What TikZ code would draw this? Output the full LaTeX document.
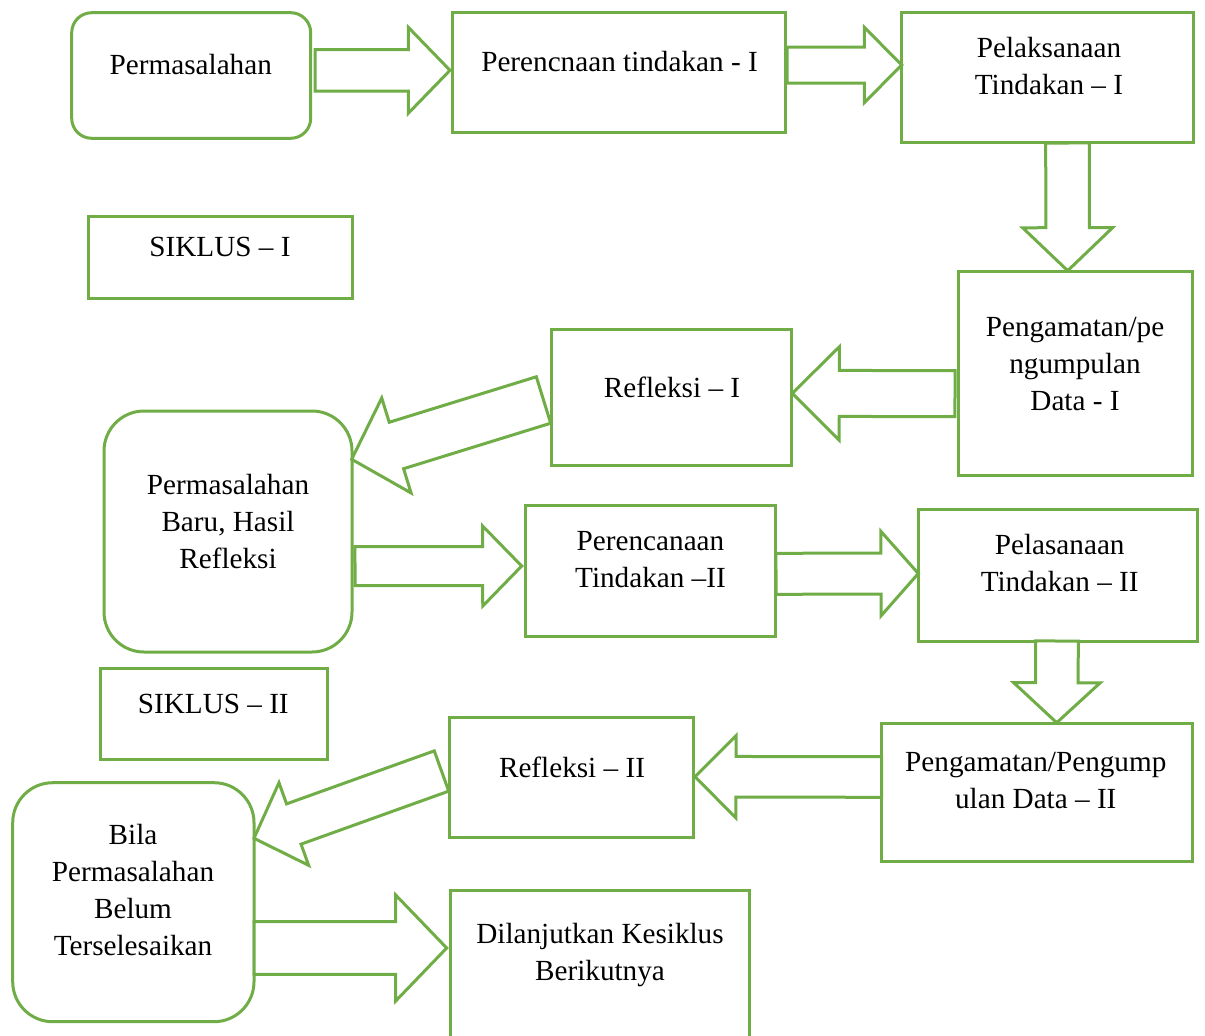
\documentclass[tikz,border=0pt]{standalone}
\usepackage{fontspec}
\setmainfont{Liberation Serif}
\usetikzlibrary{calc}
\definecolor{grn}{RGB}{112,173,71}
\tikzset{
  box/.style={draw=grn, line width=3pt, fill=white, inner sep=0pt, outer sep=0pt},
  arr/.style={draw=grn, line width=3pt, fill=white, line join=miter},
  txt/.style={anchor=base, align=center, inner sep=0pt, font=\fontsize{29.2}{36.8}\selectfont}
}
\newcommand\bx[6][]{%
  \pgfmathsetmacro\bxw{#5-#3}\pgfmathsetmacro\bxh{#6-#4}%
  \node[box,#1,minimum width=\bxw pt,minimum height=\bxh pt] (#2) at ({(#3+#5)/2},{(#4+#6)/2}) {};}
\newcommand\barrow[6]{%
  \coordinate (#1-b) at ($(#3)!#6pt!(#2)$);
  \draw[arr] ($(#2)!#4pt!90:(#3)$) -- ($(#1-b)!#4pt!90:(#3)$) -- ($(#1-b)!#5pt!90:(#3)$) -- (#3)
    -- ($(#1-b)!#5pt!-90:(#3)$) -- ($(#1-b)!#4pt!-90:(#3)$) -- ($(#2)!#4pt!-90:(#3)$) -- cycle;}
\begin{document}
\begin{tikzpicture}[x=1pt,y=-1pt]
\useasboundingbox (0,0) rectangle (1205,1036);
\clip (0,0) rectangle (1205,1036);
% boxes
\bx[rounded corners=20pt]{perm}{71.7}{12.7}{310.7}{138.3}
\bx{pt1}{452.7}{12.7}{785.7}{132.7}
\bx{pl1}{901.7}{12.7}{1193.3}{142.7}
\bx{sik1}{88}{216}{352}{298}
\bx{pg1}{958.3}{271}{1192}{475}
\bx{rf1}{551.7}{329}{791.7}{465.7}
\bx[rounded corners=40pt]{pb}{104}{411}{352}{652}
\bx{pt2}{525}{505}{775}{636.7}
\bx{pl2}{918.3}{509.3}{1197.7}{641}
\bx{sik2}{100.7}{668.3}{327.7}{759.3}
\bx{pg2}{881.7}{723.5}{1192.5}{861}
\bx{rf2}{449.3}{717}{693.3}{837}
\bx[rounded corners=40pt]{bila}{12.7}{782.7}{254}{1021.7}
\bx{dl}{450.7}{890}{749.3}{1060}
% arrow end points
\coordinate (a1s) at (315,70.3);    \coordinate (a1e) at (450,70.3);
\coordinate (a2s) at (787,65);      \coordinate (a2e) at (901.7,65);
\coordinate (a3s) at (1067.5,143);  \coordinate (a3e) at (1067.7,270.7);
\coordinate (a4s) at (955,393.7);   \coordinate (a4e) at (792.3,393.3);
\coordinate (d1s) at (543.5,400);   \coordinate (d1e) at (351.7,459.3);
\coordinate (a5s) at (355,566.2);   \coordinate (a5e) at (521.7,566);
\coordinate (a6s) at (776,573.8);   \coordinate (a6e) at (918.3,573.5);
\coordinate (a7s) at (1057,641);    \coordinate (a7e) at (1056.7,722.7);
\coordinate (a8s) at (881.7,777);   \coordinate (a8e) at (695,776.7);
\coordinate (d2s) at (441.5,771);   \coordinate (d2e) at (254,838.3);
\coordinate (a9s) at (254,948);     \coordinate (a9e) at (446.7,948);
% block arrows
\barrow{A1}{a1s}{a1e}{20.7}{43}{41.7}
\barrow{A2}{a2s}{a2e}{18}{37.7}{37.4}
\barrow{A3}{a3s}{a3e}{21.8}{45}{43}
\barrow{A4}{a4s}{a4e}{23}{46.7}{47}
\barrow{D1}{d1s}{d1e}{24.3}{49.7}{46.8}
\barrow{A5}{a5s}{a5e}{19.5}{40}{39}
\barrow{A6}{a6s}{a6e}{20.5}{42.2}{37.3}
\barrow{A7}{a7s}{a7e}{21.3}{43.3}{40}
\barrow{A8}{a8s}{a8e}{20.3}{41.2}{41}
\barrow{D2}{d2s}{d2e}{21.4}{43.9}{42.3}
\barrow{A9}{a9s}{a9e}{26.3}{53}{51}
% texts (base anchor = baseline of the last line)
\node[txt] (tperm) at (190.8,74) {Permasalahan};
\node[txt] (tpt1) at (619.5,71) {Perencnaan tindakan - I};
\node[txt] (tpl1) at (1049,94.3) {Pelaksanaan\\Tindakan – I};
\node[txt] (tsik1) at (220,256.7) {SIKLUS – I};
\node[txt] (tpg1) at (1075,410) {Pengamatan/pe\\ngumpulan\\Data - I};
\node[txt] (trf1) at (672,397) {Refleksi – I};
\node[txt] (tpb) at (228,568) {Permasalahan\\Baru, Hasil\\Refleksi};
\node[txt] (tpt2) at (650.5,587.7) {Perencanaan\\Tindakan –II};
\node[txt] (tpl2) at (1059.7,591.7) {Pelasanaan\\Tindakan – II};
\node[txt] (tsik2) at (213.3,713.3) {SIKLUS – II};
\node[txt] (tpg2) at (1035.8,808.3) {Pengamatan/Pengump\\ulan Data – II};
\node[txt] (trf2) at (572,777) {Refleksi – II};
\node[txt] (tbila) at (133,955) {Bila\\Permasalahan\\Belum\\Terselesaikan};
\node[txt] (tdl) at (600,980.7) {Dilanjutkan Kesiklus\\Berikutnya};
\end{tikzpicture}
\end{document}
